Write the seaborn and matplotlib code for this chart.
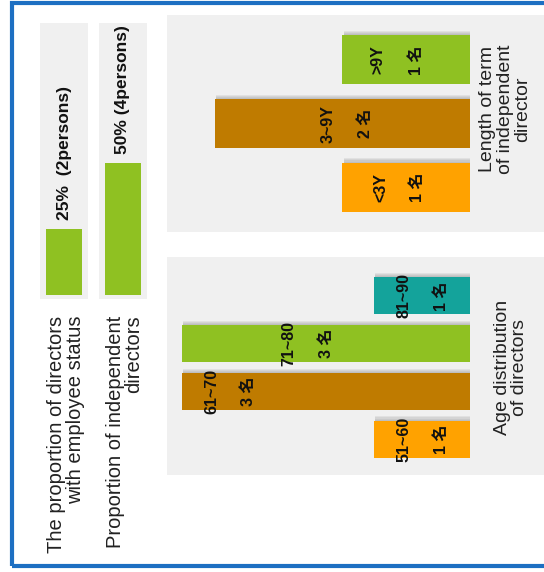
import numpy as np
import pandas as pd
import seaborn as sns
import matplotlib.pyplot as plt
import matplotlib.patheffects as pe
from matplotlib.patches import Rectangle
from matplotlib.transforms import blended_transform_factory

# --- data ---
prop_labels = ["The proportion of directors\nwith employee status",
               "Proportion of independent\ndirectors"]
prop_values = [25, 50]
prop_text = ["25%  (2persons)", "50% (4persons)"]

term_labels = ["<3Y", "3~9Y", ">9Y"]
term_counts = [1, 2, 1]

age_labels = ["51~60", "61~70", "71~80", "81~90"]
age_counts = [1, 3, 3, 1]

# where the texts sit along each bar (data units)
term_label_at = [0.70, 1.11, 0.72]
term_count_at = [0.41, 0.82, 0.42]
age_label_at = [0.69, 2.69, 1.89, 0.69]
age_count_at = [0.30, 2.31, 1.50, 0.30]

ORANGE = "#ffa200"
BROWN = "#bf7b00"
GREEN = "#8fc122"
TEAL = "#14a39b"
PANEL = "#f0f0f0"
BLUE = "#1d6fc2"

term_colors = [ORANGE, BROWN, GREEN]
age_colors = [ORANGE, BROWN, GREEN, TEAL]

sns.set_theme(style="white")
plt.rcParams['font.family'] = ['Liberation Sans', 'Noto Sans CJK JP', 'DejaVu Sans']

W, H = 544, 572
fig = plt.figure(figsize=(W / 100, H / 100), dpi=100)


def px_axes(x0, y0, x1, y1):
    return fig.add_axes([x0 / W, 1 - y1 / H, (x1 - x0) / W, (y1 - y0) / H])


def px_rect(x0, y0, x1, y1, **kw):
    r = Rectangle((x0 / W, 1 - y1 / H), (x1 - x0) / W, (y1 - y0) / H,
                  transform=fig.transFigure, **kw)
    fig.patches.append(r)
    return r


# panel backgrounds and outer frame
px_rect(167, 15, 560, 232, facecolor=PANEL, edgecolor='none', zorder=-1)
px_rect(167, 257, 560, 475, facecolor=PANEL, edgecolor='none', zorder=-1)
px_rect(12, 3, 600, 566, facecolor='none', edgecolor=BLUE, lw=3, zorder=5)


def clean(ax):
    ax.set_facecolor('none')
    for s in ax.spines.values():
        s.set_visible(False)
    ax.set_xticks([])
    ax.set_yticks([])
    ax.set_xlabel('')
    ax.set_ylabel('')


# ---- left panel: proportions ----
ax1 = px_axes(35, 23, 152, 299)
sns.barplot(x=prop_labels, y=prop_values, color=GREEN, saturation=1,
            width=0.62, linewidth=0, ax=ax1)
ax1.set_xlim(-0.5, 1.5)
ax1.set_ylim(-1.5, 103)
tr = blended_transform_factory(ax1.transData, ax1.transAxes)
for i, (lab, txt, v) in enumerate(zip(prop_labels, prop_text, prop_values)):
    ax1.add_patch(Rectangle((i - 0.41, 0), 0.82, 1, transform=tr,
                            facecolor=PANEL, edgecolor='none', zorder=0))
    ax1.text(i, v + 3.4, txt, rotation=90, ha='center', va='bottom',
             fontsize=12.5, fontweight='bold', color='#111111')
    ax1.text(i + 0.03, -0.06, lab, rotation=90, ha='center', va='top',
             multialignment='right', transform=tr, fontsize=14.5,
             color='#222222', linespacing=1.0)
clean(ax1)

# soft drop shadow above each bar
shadow = [pe.SimplePatchShadow(offset=(1, k), shadow_rgbFace='#888888',
                               alpha=0.14) for k in (3.2, 2.4, 1.6, 0.8)]


def side_panel(ax, labels, counts, colors, label_at, count_at, title, title_y):
    sns.barplot(x=counts, y=labels, hue=labels, palette=colors, legend=False,
                orient='h', saturation=1, width=0.77, linewidth=0, ax=ax)
    for p in ax.patches:
        p.set_path_effects(shadow + [pe.Normal()])
    for i, lab in enumerate(labels):
        ax.text(label_at[i], i, lab, rotation=90, ha='center', va='center',
                fontsize=11.5, fontweight='bold', color='#111111')
        ax.text(count_at[i], i, f"{counts[i]} 名", rotation=90, ha='center',
                va='center', fontsize=11.5, fontweight='bold', color='#111111')
    ax.set_ylim(-0.5, len(labels) - 0.5)
    clean(ax)
    fig.text(title[0] / W, 1 - title_y / H, title[1], rotation=90,
             ha='center', va='center', multialignment='center',
             fontsize=14, color='#222222', linespacing=1.05)


# ---- term panel ----
ax2 = px_axes(167, 28, 470, 219)
side_panel(ax2, term_labels, term_counts, term_colors,
           term_label_at, term_count_at,
           (505, "Length of term\nof independent\ndirector"), 109)
ax2.set_xlim(2.376, 0)

# ---- age panel ----
ax3 = px_axes(167, 272, 470, 463)
side_panel(ax3, age_labels, age_counts, age_colors,
           age_label_at, age_count_at,
           (511, "Age distribution\nof directors"), 367)
ax3.set_xlim(3.156, 0)

fig.savefig("out.png", dpi=100, facecolor='white')
